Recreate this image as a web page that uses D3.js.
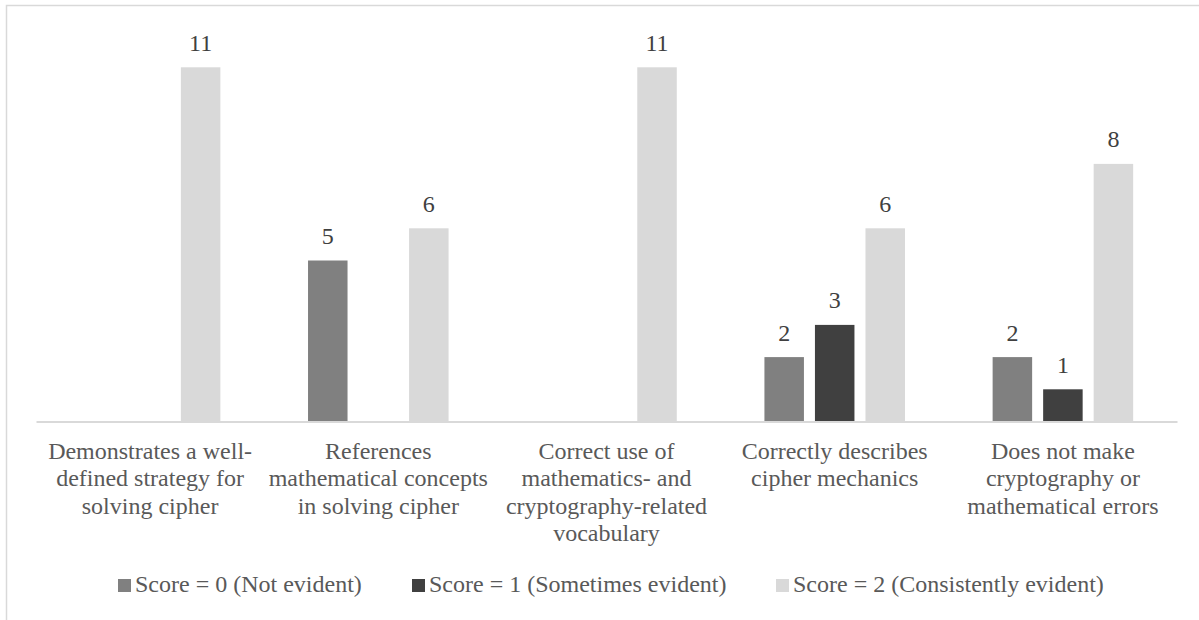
<!DOCTYPE html>
<html>
<head>
<meta charset="utf-8">
<script src="https://cdn.jsdelivr.net/npm/d3@7"></script>
<style>
  html, body { margin: 0; padding: 0; background: #fff; overflow: hidden; }
  svg { display: block; }
</style>
</head>
<body>
<svg id="chart" width="1199" height="620"></svg>
<script>
// Rubric criteria (axis categories), each split over display lines
const categories = [
  ["Demonstrates a well-", "defined strategy for", "solving cipher"],
  ["References", "mathematical concepts", "in solving cipher"],
  ["Correct use of", "mathematics- and", "cryptography-related", "vocabulary"],
  ["Correctly describes", "cipher mechanics"],
  ["Does not make", "cryptography or", "mathematical errors"]
];

// Series names and counts per criterion (null = no bar)
const seriesNames = [
  "Score = 0 (Not evident)",
  "Score = 1 (Sometimes evident)",
  "Score = 2 (Consistently evident)"
];
const score0 = [null, 5, null, 2, 2];
const score1 = [null, null, null, 3, 1];
const score2 = [11, 6, 11, 6, 8];
const seriesColors = ["#808080", "#404040", "#d9d9d9"];

const yMax = 12;
const FONT = "'Liberation Serif', 'Times New Roman', Times, serif";

const svg = d3.select("#chart").attr("font-family", FONT);

// Outer chart frame
svg.append("rect")
  .attr("x", 6.5).attr("y", 5.5)
  .attr("width", 1300).attr("height", 700)
  .attr("fill", "none")
  .attr("stroke", "#d9d9d9")
  .attr("stroke-width", 1.5);

const plot = { left: 36, right: 1177, top: 35, bottom: 421.5 };

const x0 = d3.scaleBand()
  .domain(d3.range(categories.length))
  .range([plot.left, plot.right])
  .paddingInner(0).paddingOuter(0);

const x1 = d3.scaleBand()
  .domain(d3.range(seriesNames.length))
  .range([0, x0.bandwidth()])
  .paddingInner(0.218)
  .paddingOuter(0.8675);

const y = d3.scaleLinear()
  .domain([0, yMax])
  .range([plot.bottom, plot.bottom - 32.2 * yMax]);

const seriesData = [score0, score1, score2];
const bars = [];
seriesData.forEach((vals, s) => {
  vals.forEach((v, c) => {
    if (v !== null) bars.push({ c, s, v });
  });
});

svg.append("g").selectAll("rect")
  .data(bars)
  .join("rect")
  .attr("x", d => x0(d.c) + x1(d.s))
  .attr("width", x1.bandwidth())
  .attr("y", d => y(d.v))
  .attr("height", d => y(0) - y(d.v))
  .attr("fill", d => seriesColors[d.s]);

// Value labels
svg.append("g").selectAll("text")
  .data(bars)
  .join("text")
  .attr("font-family", FONT)
  .attr("x", d => x0(d.c) + x1(d.s) + x1.bandwidth() / 2)
  .attr("y", d => y(d.v) - 16.5)
  .attr("text-anchor", "middle")
  .attr("font-size", 24)
  .attr("fill", "#404040")
  .text(d => d.v);

// Category axis line
const xAxis = d3.axisBottom(x0).tickSize(0).tickFormat("");
const axisG = svg.append("g")
  .attr("transform", `translate(0,${plot.bottom})`)
  .call(xAxis);
axisG.select(".domain").attr("stroke", "#d9d9d9").attr("stroke-width", 2);

// Category labels
const catG = svg.append("g").selectAll("text")
  .data(categories)
  .join("text")
  .attr("font-family", FONT)
  .attr("text-anchor", "middle")
  .attr("font-size", 24)
  .attr("fill", "#595959");
catG.each(function(lines, i) {
  d3.select(this).selectAll("tspan")
    .data(lines)
    .join("tspan")
    .attr("x", x0(i) + x0.bandwidth() / 2)
    .attr("y", (d, j) => 458.5 + j * 27.5)
    .text(d => d);
});

// Legend
const legendX = [118, 412, 776];
const legend = svg.append("g").selectAll("g")
  .data(seriesNames)
  .join("g")
  .attr("transform", (d, i) => `translate(${legendX[i]},0)`);
legend.append("rect")
  .attr("x", 0).attr("y", 579)
  .attr("width", 13).attr("height", 13)
  .attr("fill", (d, i) => seriesColors[i]);
legend.append("text")
  .attr("font-family", FONT)
  .attr("x", 17).attr("y", 592)
  .attr("font-size", 24)
  .attr("fill", "#595959")
  .text(d => d);
</script>
</body>
</html>
